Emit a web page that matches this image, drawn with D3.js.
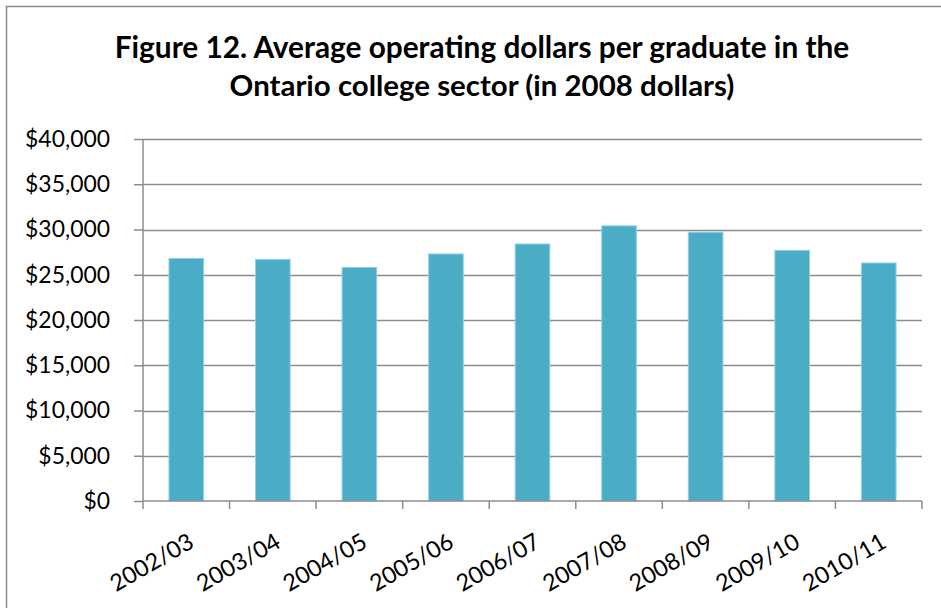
<!DOCTYPE html>
<html>
<head>
<meta charset="utf-8">
<script src="https://cdn.jsdelivr.net/npm/d3@7/dist/d3.min.js"></script>
<style>
  html, body { margin: 0; padding: 0; background: #fff; }
  svg { display: block; }
</style>
</head>
<body>
<svg id="chart" width="941" height="608"></svg>
<script>
// Fiscal years shown on the category axis
const years = ["2002/03", "2003/04", "2004/05", "2005/06", "2006/07", "2007/08", "2008/09", "2009/10", "2010/11"];
// Average operating dollars per graduate (2008 dollars)
const dollarsPerGraduate = [26800, 26700, 25800, 27300, 28400, 30400, 29700, 27700, 26300];
// Value-axis ticks
const yTicks = [0, 5000, 10000, 15000, 20000, 25000, 30000, 35000, 40000];
const titleLines = [
  "Figure 12. Average operating dollars per graduate in the",
  "Ontario college sector (in 2008 dollars)"
];

const W = 941, H = 608;
const plot = { left: 143, right: 922, top: 139, bottom: 501 };
const font = "Lato, 'Open Sans', sans-serif";
const gridColor = "#8c8c8c";

const svg = d3.select("#chart");

// Scale a text element's font size so its rendered width equals target
function fitWidth(sel, base, target) {
  sel.attr("font-size", base);
  const w = sel.node().getComputedTextLength();
  const size = base * target / w;
  sel.attr("font-size", size);
  return size;
}

// Chart frame (open on the right and bottom edges)
svg.append("path")
  .attr("d", `M6.5,${H} L6.5,6.5 L${W},6.5`)
  .attr("fill", "none")
  .attr("stroke", "#8a8a8a")
  .attr("stroke-width", 1.5);

// Title, sized to the line widths
const titleWidths = [735, 505];
const titleY = [58, 96];
titleLines.forEach((t, i) => {
  const txt = svg.append("text")
    .attr("x", 482)
    .attr("y", titleY[i])
    .attr("text-anchor", "middle")
    .attr("font-family", font)
    .attr("font-weight", "bold")
    .attr("fill", "#000")
    .text(t);
  fitWidth(txt, 26, titleWidths[i]);
});

const x = d3.scaleBand()
  .domain(years)
  .range([plot.left, plot.right])
  .paddingInner(0.6)
  .paddingOuter(0.3);

const y = d3.scaleLinear()
  .domain([0, 40000])
  .range([plot.bottom, plot.top]);

// Horizontal gridlines
svg.append("g")
  .selectAll("line")
  .data(yTicks.filter(d => d > 0))
  .join("line")
  .attr("x1", plot.left)
  .attr("x2", plot.right)
  .attr("y1", d => Math.round(y(d)) + 0.5)
  .attr("y2", d => Math.round(y(d)) + 0.5)
  .attr("stroke", gridColor)
  .attr("stroke-width", 1.5);

// Bars
svg.append("g")
  .selectAll("rect")
  .data(years.map((yr, i) => ({ yr, v: dollarsPerGraduate[i] })))
  .join("rect")
  .attr("x", d => x(d.yr))
  .attr("y", d => y(d.v))
  .attr("width", x.bandwidth())
  .attr("height", d => y(0) - y(d.v))
  .attr("fill", "#4BACC6")
  .attr("stroke", "#94cfe0")
  .attr("stroke-width", 1);

// Axis label size: "$40,000" about 85px wide
const probe = svg.append("text").attr("font-family", font).text("$40,000");
const labelSize = fitWidth(probe, 20, 85);
probe.remove();

// Value axis
const yAxis = d3.axisLeft(y)
  .tickValues(yTicks)
  .tickSize(9)
  .tickPadding(24)
  .tickFormat(d => "$" + d3.format(",")(d));

const yG = svg.append("g")
  .attr("transform", `translate(${plot.left},0)`)
  .call(yAxis);
yG.select(".domain").attr("stroke", gridColor).attr("stroke-width", 1.5)
  .attr("d", `M0,${plot.top}V${plot.bottom}`);
yG.selectAll(".tick line").attr("stroke", gridColor).attr("stroke-width", 1.5);
yG.selectAll(".tick text")
  .attr("font-family", font)
  .attr("font-size", labelSize)
  .attr("fill", "#000");

// Category axis, with ticks on the band boundaries
const xG = svg.append("g")
  .attr("transform", `translate(0,${plot.bottom})`);
xG.append("line")
  .attr("x1", plot.left).attr("x2", plot.right)
  .attr("y1", 0).attr("y2", 0)
  .attr("stroke", gridColor).attr("stroke-width", 1.5);
const boundaries = d3.range(years.length + 1).map(i => plot.left + i * x.step());
xG.selectAll("line.tick")
  .data(boundaries)
  .join("line")
  .attr("class", "tick")
  .attr("x1", d => d).attr("x2", d => d)
  .attr("y1", 0).attr("y2", 8)
  .attr("stroke", gridColor).attr("stroke-width", 1.5);

xG.selectAll("text")
  .data(years)
  .join("text")
  .attr("transform", d => `translate(${x(d) + x.bandwidth() / 2 + 1},${31}) rotate(-30)`)
  .attr("text-anchor", "end")
  .attr("dy", "0.71em")
  .attr("font-family", font)
  .attr("font-size", labelSize * 1.02)
  .attr("fill", "#000")
  .text(d => d);
</script>
</body>
</html>
